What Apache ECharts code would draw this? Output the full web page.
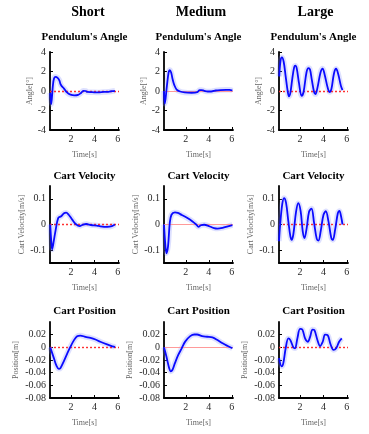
<!DOCTYPE html>
<html><head><meta charset="utf-8">
<script src="https://cdn.jsdelivr.net/npm/echarts@6/dist/echarts.min.js"></script>
<style>html,body{margin:0;padding:0;background:#fff}#c{width:369px;height:434px}</style>
</head><body><div id="c"></div>
<script>
// ---- data ----
const columnTitles = ['Short', 'Medium', 'Large'];
const rowTitles = ["Pendulum's Angle", 'Cart Velocity', 'Cart Position'];
const yNames = ['Angle[°]', 'Cart Velocity[m/s]', 'Position[m]'];
const xTicks = [2, 4, 6];
const angleTicks = [-4, -2, 0, 2, 4];
const velocityTicks = [-0.1, 0, 0.1];
const positionTicks = [-0.08, -0.06, -0.04, -0.02, 0, 0.02];

const shortAngle = [[0.22,-0.2],[0.3,-1.35],[0.45,0.6],[0.55,1.3],[0.68,1.45],[0.85,1.35],[1.0,1.1],[1.1,0.7],[1.2,0.5],[1.4,0.25],[1.65,-0.15],[1.95,-0.38],[2.3,-0.45],[2.6,-0.4],[2.85,-0.2],[3.05,0.02],[3.25,0.0],[3.4,-0.1],[3.8,-0.12],[4.3,-0.15],[4.8,-0.1],[5.2,-0.08],[5.5,-0.02],[5.75,0.02]];
const mediumAngle = [[0.1,0],[0.17,-1.3],[0.35,0.5],[0.5,1.9],[0.6,2.15],[0.72,1.9],[0.85,1.2],[1.0,0.6],[1.2,0.15],[1.5,-0.05],[1.9,-0.15],[2.5,-0.18],[3.0,-0.12],[3.2,0.1],[3.35,0.1],[3.6,0.02],[3.9,-0.05],[4.2,-0.05],[4.6,0.05],[5.0,0.1],[5.5,0.12],[5.8,0.12],[6.05,0.05]];
const largeAngle = [[0.22,1.5],[0.33,3.1],[0.45,3.45],[0.6,3.0],[0.77,1.5],[0.94,0.0],[1.05,-0.55],[1.17,-0.2],[1.34,1.3],[1.5,2.45],[1.6,2.6],[1.72,2.3],[1.91,0.8],[2.14,-0.5],[2.3,-0.1],[2.55,1.9],[2.72,2.35],[2.85,2.2],[3.0,1.2],[3.2,-0.1],[3.32,-0.32],[3.5,0.4],[3.75,1.9],[3.93,2.3],[4.1,1.7],[4.37,0.3],[4.52,-0.1],[4.68,0.2],[4.9,1.8],[5.08,2.28],[5.25,1.8],[5.5,0.5],[5.63,0.1]];

const shortVelocity = [[0.22,0.0],[0.3,-0.06],[0.38,-0.097],[0.5,-0.07],[0.67,-0.025],[0.9,0.025],[1.15,0.032],[1.4,0.044],[1.58,0.046],[1.8,0.038],[2.1,0.019],[2.4,0.002],[2.75,-0.006],[2.95,-0.002],[3.3,0.002],[3.7,-0.002],[4.2,-0.004],[4.5,-0.007],[5.1,-0.009],[5.5,-0.006],[5.75,0.0]];
const mediumVelocity = [[0.1,0.0],[0.2,-0.07],[0.31,-0.112],[0.45,-0.085],[0.6,0.005],[0.75,0.038],[1.05,0.047],[1.3,0.045],[1.65,0.037],[2.1,0.026],[2.55,0.013],[2.9,0.0],[3.1,-0.009],[3.3,-0.003],[3.6,-0.001],[4.0,-0.006],[4.45,-0.014],[4.75,-0.016],[5.2,-0.013],[5.65,-0.007],[6.05,-0.002]];
const largeVelocity = [[0.2,-0.065],[0.3,0.0],[0.48,0.08],[0.63,0.103],[0.8,0.085],[1.0,0.012],[1.17,-0.045],[1.29,-0.06],[1.43,-0.037],[1.66,0.05],[1.85,0.083],[2.05,0.052],[2.23,-0.027],[2.38,-0.053],[2.57,-0.013],[2.77,0.05],[2.98,0.062],[3.2,0.006],[3.43,-0.056],[3.57,-0.063],[3.77,-0.025],[4.0,0.037],[4.2,0.052],[4.43,0.012],[4.66,-0.05],[4.8,-0.06],[5.0,-0.02],[5.23,0.044],[5.37,0.053],[5.51,0.031],[5.63,0.0]];

const shortPosition = [[0.22,0.0],[0.53,-0.017],[0.75,-0.029],[0.95,-0.034],[1.1,-0.0325],[1.38,-0.022],[1.67,-0.010],[1.95,0.001],[2.24,0.011],[2.52,0.0175],[2.8,0.0186],[3.23,0.0165],[3.66,0.015],[4.09,0.0124],[4.5,0.0088],[5.08,0.0046],[5.65,0.001],[5.75,0.0]];
const mediumPosition = [[0.1,0],[0.31,-0.0146],[0.55,-0.033],[0.69,-0.038],[0.84,-0.0354],[1.05,-0.025],[1.34,-0.012],[1.64,-0.0016],[1.94,0.009],[2.38,0.0177],[2.74,0.0203],[2.97,0.0203],[3.42,0.0177],[3.86,0.0167],[4.31,0.0156],[4.75,0.0115],[5.2,0.0063],[5.64,0.0021],[6.05,-0.0015]];
const largePosition = [[0.2,-0.017],[0.43,-0.03],[0.57,-0.025],[0.77,-0.0015],[1.0,0.014],[1.17,0.0113],[1.43,0.0],[1.57,-0.0015],[1.77,0.014],[2.0,0.029],[2.2,0.028],[2.43,0.014],[2.66,0.0088],[2.86,0.0165],[3.06,0.028],[3.23,0.027],[3.49,0.0113],[3.71,0.002],[3.94,0.0088],[4.14,0.02],[4.37,0.019],[4.6,0.0052],[4.86,-0.0041],[5.09,-0.0015],[5.34,0.0088],[5.57,0.014]];

const dataGrid = [
  [shortAngle, mediumAngle, largeAngle],
  [shortVelocity, mediumVelocity, largeVelocity],
  [shortPosition, mediumPosition, largePosition]
];

// ---- layout ----
const FONT = "'Liberation Serif', 'Times New Roman', serif";
const colLeft = [50, 164, 279];
const colWidth = 69;
const colXMin = [0.2, 0.1, 0.2];
const rowTop = [52, 186, 322];
const rowHeight = [78, 77, 76];
const rowY = [
  {min: -4, max: 4, ticks: angleTicks, nameGap: 16},
  {min: -0.15, max: 0.15, ticks: velocityTicks, nameGap: 24},
  {min: -0.08, max: 0.04, ticks: positionTicks, nameGap: 30}
];
const titleY = [37, 176, 311];
const colTitleX = [88, 201, 315.5];

const grids = [], xAxes = [], yAxes = [], series = [], graphics = [];
for (let r = 0; r < 3; r++) {
  for (let c = 0; c < 3; c++) {
    const idx = grids.length;
    grids.push({left: colLeft[c], top: rowTop[r], width: colWidth, height: rowHeight[r], containLabel: false});
    xAxes.push({
      gridIndex: idx, type: 'value', min: colXMin[c], max: 6.1,
      axisLine: {show: true, onZero: false, lineStyle: {color: '#000', width: 1.8}},
      axisTick: {show: true, inside: true, length: 3, customValues: xTicks, lineStyle: {color: '#000', width: 1}},
      axisLabel: {customValues: xTicks, fontSize: 10, color: '#2a2a2a', fontFamily: FONT, margin: 4},
      splitLine: {show: false},
      name: 'Time[s]', nameLocation: 'middle', nameGap: 21,
      nameTextStyle: {fontSize: 8, color: '#666', fontFamily: FONT}
    });
    const ry = rowY[r];
    yAxes.push({
      gridIndex: idx, type: 'value', min: ry.min, max: ry.max,
      axisLine: {show: true, onZero: false, lineStyle: {color: '#000', width: 1.8}},
      axisTick: {show: true, inside: true, length: 3, customValues: ry.ticks, lineStyle: {color: '#000', width: 1}},
      axisLabel: {customValues: ry.ticks, fontSize: 10, color: '#2a2a2a', fontFamily: FONT, margin: 4,
        formatter: v => String(v)},
      splitLine: {show: false},
      name: yNames[r], nameLocation: 'middle', nameGap: ry.nameGap,
      nameTextStyle: {fontSize: 8, color: '#666', fontFamily: FONT}
    });
    const d = dataGrid[r][c];
    series.push({
      type: 'line', xAxisIndex: idx, yAxisIndex: idx, data: d, smooth: 0.35,
      showSymbol: false, silent: true, z: 1,
      lineStyle: {color: 'rgba(120,130,255,0.25)', width: 5.5}
    });
    series.push({
      type: 'line', xAxisIndex: idx, yAxisIndex: idx, data: d, smooth: 0.35,
      showSymbol: false, silent: true, z: 3,
      lineStyle: {color: '#0a0aff', width: 1.8},
      markLine: {silent: true, symbol: 'none', label: {show: false}, z: 2,
        lineStyle: c === 1 ? {color: '#ff9a9a', type: 'solid', width: 1.2} : {color: '#ff3030', type: [2, 2], width: 1.4, opacity: 1},
        data: [{yAxis: 0}]}
    });
    graphics.push({type: 'text', x: colLeft[c] + colWidth / 2, y: titleY[r],
      style: {text: rowTitles[r], font: `bold 11px ${FONT}`, fill: '#000', textAlign: 'center', textVerticalAlign: 'middle'}});
  }
}
for (let c = 0; c < 3; c++) {
  graphics.push({type: 'text', x: colTitleX[c], y: 12,
    style: {text: columnTitles[c], font: `bold 14px ${FONT}`, fill: '#000', textAlign: 'center', textVerticalAlign: 'middle'}});
}

const chart = echarts.init(document.getElementById('c'), null, {renderer: 'canvas'});
chart.setOption({
  animation: false,
  backgroundColor: '#fff',
  grid: grids, xAxis: xAxes, yAxis: yAxes, series: series,
  graphic: graphics
});
</script></body></html>
